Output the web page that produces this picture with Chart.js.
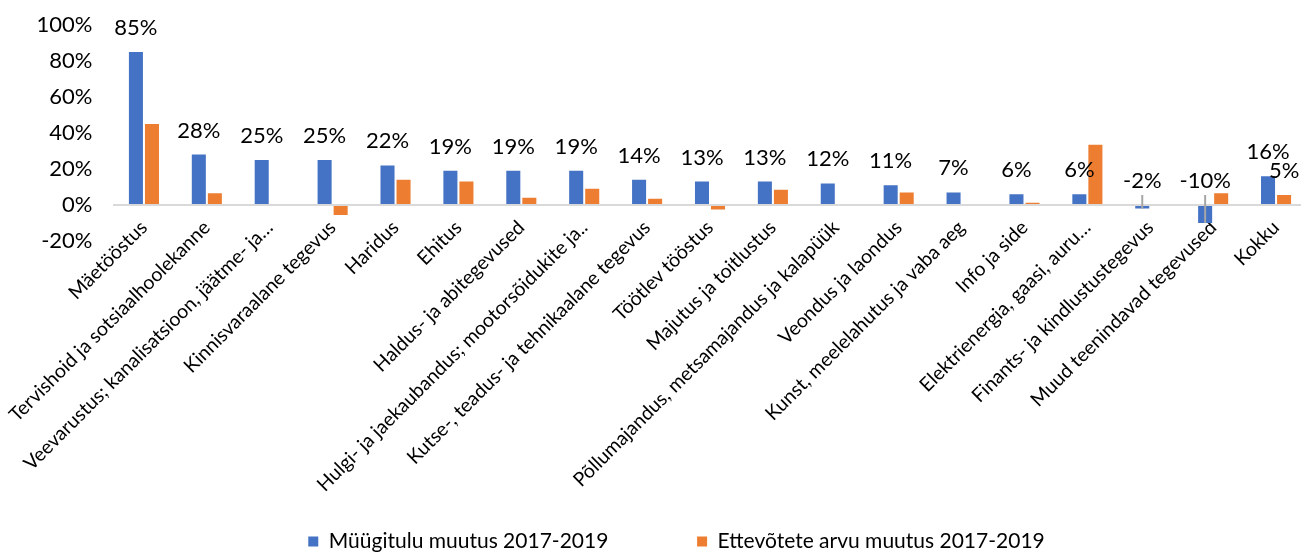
<!DOCTYPE html>
<html>
<head>
<meta charset="utf-8">
<script src="https://cdn.jsdelivr.net/npm/chart.js@4.4.0/dist/chart.umd.min.js"></script>
<style>
   html, body { margin: 0; padding: 0; background: #fff; overflow: hidden; }
   #wrap { position: relative; width: 1320px; height: 562px; }
</style>
</head>
<body>
<div id="wrap"><canvas id="chart"></canvas></div>
<script>
// Categories (EMTAK sectors)
const categories = [
   'Mäetööstus',
   'Tervishoid ja sotsiaalhoolekanne',
   'Veevarustus; kanalisatsioon, jäätme- ja…',
   'Kinnisvaraalane tegevus',
   'Haridus',
   'Ehitus',
   'Haldus- ja abitegevused',
   'Hulgi- ja jaekaubandus; mootorsõidukite ja..',
   'Kutse-, teadus- ja tehnikaalane tegevus',
   'Töötlev tööstus',
   'Majutus ja toitlustus',
   'Põllumajandus, metsamajandus ja kalapüük',
   'Veondus ja laondus',
   'Kunst, meelelahutus ja vaba aeg',
   'Info ja side',
   'Elektrienergia, gaasi, auru…',
   'Finants- ja kindlustustegevus',
   'Muud teenindavad tegevused',
   'Kokku'
];

// Series values, %
const myygitulu = [85, 28, 25, 25, 22, 19, 19, 19, 14, 13, 13, 12, 11, 7, 6, 6, -2, -10, 16];
const ettevotted = [45, 6.5, null, -5.5, 14, 13, 4, 9, 3.5, -2.5, 8.5, null, 7, -0.5, 1.2, 33.5, null, 6.5, 5.5];
const ettevotteLabels = [null, null, null, null, null, null, null, null, null, null, null, null, null, null, null, null, null, null, '5%'];

const yTicks = [-20, 0, 20, 40, 60, 80, 100];

const FONT = 'Lato, "Open Sans", sans-serif';

// Data labels above bars, leader lines for the negative ones
const barLabels = {
   id: 'barLabels',
   afterLayout(chart) {
      // let y tick labels run left of the axis box, lift x labels close to the plot like Excel
      chart.scales.y.left = 0;
      chart.scales.x.top -= 33;
   },
   afterDatasetsDraw(chart) {
      const { ctx } = chart;
      const y = chart.scales.y;
      ctx.save();
      ctx.font = '22px ' + FONT;
      ctx.textAlign = 'center';
      ctx.textBaseline = 'middle';
      [myygitulu, ettevotted].forEach((vals, d) => {
         const meta = chart.getDatasetMeta(d);
         vals.forEach((v, i) => {
            const txt = d === 0 ? v + '%' : ettevotteLabels[i];
            if (v == null || !txt) return;
            const bar = meta.data[i];
            const ly = y.getPixelForValue(Math.max(v, 0)) - 24;
            ctx.fillStyle = '#000';
            ctx.fillText(txt, bar.x, ly);
            if (v < 0) {
               ctx.strokeStyle = '#a6a6a6';
               ctx.lineWidth = 2;
               ctx.beginPath();
               ctx.moveTo(bar.x, ly + 14);
               ctx.lineTo(bar.x, bar.y);
               ctx.stroke();
            }
         });
      });
      ctx.restore();
   }
};

const legendLabels = function (chart) {
   const items = Chart.defaults.plugins.legend.labels.generateLabels(chart);
   items[0].text += '\u2003\u2003\u2003\u2003\u2003';
   return items;
};

new Chart(document.getElementById('chart'), {
   type: 'bar',
   data: {
      labels: categories,
      datasets: [
         {
            label: 'Müügitulu muutus 2017-2019',
            data: myygitulu,
            backgroundColor: '#4472c4',
            categoryPercentage: 0.51,
            barPercentage: 0.875
         },
         {
            label: 'Ettevõtete arvu muutus 2017-2019',
            data: ettevotted,
            backgroundColor: '#ed7d31',
            categoryPercentage: 0.51,
            barPercentage: 0.875
         }
      ]
   },
   plugins: [barLabels],
   options: {
      responsive: true,
      maintainAspectRatio: false,
      animation: false,
      layout: { padding: { top: 25, left: 45.5, right: 12.5, bottom: 0 } },
      plugins: {
         tooltip: { enabled: false },
         legend: {
            position: 'bottom',
            labels: {
               color: '#000',
               font: { family: FONT, size: 21 },
               boxWidth: 10,
               boxHeight: 10,
               padding: 10,
               generateLabels: legendLabels
            }
         }
      },
      scales: {
         x: {
            grid: { display: false },
            border: { display: false },
            ticks: {
               color: '#000',
               font: { family: FONT, size: 19.5 },
               minRotation: 45,
               maxRotation: 45,
               autoSkip: false,
               padding: 0
            },
            afterFit: s => { s.height = 280; }
         },
         y: {
            min: -20,
            max: 100,
            afterBuildTicks: s => { s.ticks = yTicks.map(v => ({ value: v })); },
            afterFit: s => { s.width = 67; s.paddingTop = 0; },
            grid: {
               color: c => c.tick && c.tick.value === 0 ? '#d9d9d9' : 'rgba(0,0,0,0)',
               lineWidth: 2,
               drawTicks: false
            },
            border: { display: false },
            ticks: {
               color: '#000',
               font: { family: FONT, size: 22 },
               padding: 20,
               callback: v => v + '%'
            }
         }
      }
   }
});
</script>
</body>
</html>
